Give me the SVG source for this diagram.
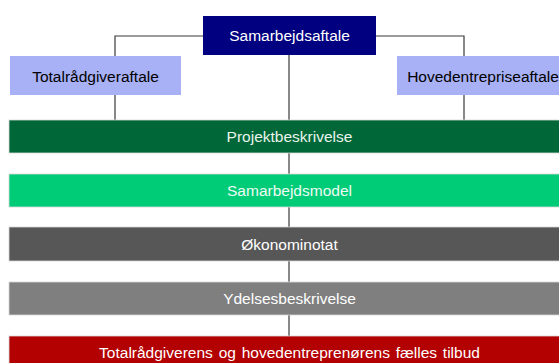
<svg xmlns="http://www.w3.org/2000/svg" width="559" height="363" viewBox="0 0 559 363">
<style>
text{font-family:"Liberation Sans",Arial,sans-serif;font-size:15.5px;text-anchor:middle}
.dark{fill:#ffffff}
.blk{fill:#000000}
.ln{stroke:#3a3a3a;stroke-width:1.2;fill:none}
.bar{stroke:#d8d8d8;stroke-width:0.8}
</style>
<rect x="0" y="0" width="559" height="363" fill="#ffffff"/>
<g id="connectors">
<polyline class="ln" points="203,36 115,36 115,56"/>
<polyline class="ln" points="376,36 464,36 464,56"/>
<line class="ln" x1="115" y1="95" x2="115" y2="120"/>
<line class="ln" x1="464" y1="95" x2="464" y2="120"/>
<line class="ln" x1="289" y1="55" x2="289" y2="120"/>
<line class="ln" x1="289" y1="153" x2="289" y2="174"/>
<line class="ln" x1="289" y1="207" x2="289" y2="227"/>
<line class="ln" x1="289" y1="261" x2="289" y2="282"/>
<line class="ln" x1="289" y1="315" x2="289" y2="336"/>
</g>
<g id="samarbejdsaftale">
<rect x="203" y="16" width="173" height="39" fill="#000080"/>
<text class="dark" x="289.5" y="41">Samarbejdsaftale</text>
</g>
<g id="totalraadgiveraftale">
<rect x="10" y="56" width="171" height="39" fill="#a9b1f6"/>
<text class="blk" x="95.5" y="81.5">Totalrådgiveraftale</text>
</g>
<g id="hovedentrepriseaftale">
<rect x="397" y="56" width="172" height="39" fill="#a9b1f6"/>
<text class="blk" x="483" y="81.5">Hovedentrepriseaftale</text>
</g>
<g id="projektbeskrivelse">
<rect class="bar" x="9" y="120" width="560" height="33" fill="#006838"/>
<text fill="#e8f4ec" x="289.5" y="141.5">Projektbeskrivelse</text>
</g>
<g id="samarbejdsmodel">
<rect class="bar" x="9" y="174" width="560" height="33" fill="#00cc78"/>
<text fill="#eefaf3" x="289.5" y="195.5">Samarbejdsmodel</text>
</g>
<g id="oekonominotat">
<rect class="bar" x="9" y="227" width="560" height="34" fill="#575757"/>
<text class="dark" x="289.5" y="249.5">Økonominotat</text>
</g>
<g id="ydelsesbeskrivelse">
<rect class="bar" x="9" y="282" width="560" height="33" fill="#7f7f7f"/>
<text class="dark" x="289.5" y="303.5">Ydelsesbeskrivelse</text>
</g>
<g id="faelles-tilbud">
<rect class="bar" x="9" y="336" width="560" height="30" fill="#b30000"/>
<text class="dark" x="289.5" y="357.5" word-spacing="1.5">Totalrådgiverens og hovedentreprenørens fælles tilbud</text>
</g>
</svg>
